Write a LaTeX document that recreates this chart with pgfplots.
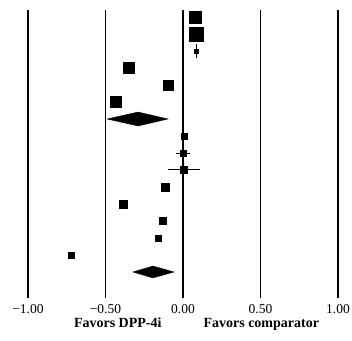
\documentclass[border=0pt]{standalone}
\usepackage{fontspec}
\setmainfont{Liberation Serif}
\usepackage{pgfplots}
\pgfplotsset{compat=1.18}
\usepackage{pgfplotstable}
\pgfplotstableread{
x y s
0.077 1 6
0.084 2 7
0.084 3 2
-0.348 4 5.5
-0.097 5 5
-0.432 6 5.5
0.006 8 3
0.000 9 3
0.006 10 3.5
-0.116 11 4
-0.387 12 4
-0.129 13 3.5
-0.161 14 3
-0.723 15 3
}\sqdata
\begin{document}
\begin{tikzpicture}
\useasboundingbox (0,0) rectangle (352bp,341bp);
\begin{axis}[
  at={(28bp,43bp)}, anchor=south west,
  scale only axis, width=310bp, height=288bp,
  xmin=-1, xmax=1, ymin=0.588, ymax=17.53, y dir=reverse,
  axis x line=bottom, axis y line=none,
  axis line style={draw=none},
  major tick length=0pt,
  xtick={-1,-0.5,0,0.5,1},
  xticklabels={−1.00,−0.50,0.00,0.50,1.00},
  xticklabel style={font=\fontsize{13.5bp}{16bp}\selectfont, yshift=-3bp},
  ytick=\empty,
  xmajorgrids, grid style={black, line width=1.1bp},
  clip=false,
]
\addplot[black, line width=1bp, mark=none, forget plot,
  error bars/.cd, x dir=both, x explicit, error bar style={line width=1bp}, error mark=none]
  coordinates {(0,9) +- (0.045,0) (0.006,10) +- (0.103,0)};
\addplot[black, line width=1bp, mark=none, draw=none, forget plot,
  error bars/.cd, y dir=both, y explicit, error bar style={line width=1bp}, error mark=none]
  coordinates {(0.084,3) +- (0,0.42)};
\addplot[scatter, only marks, mark=square*, draw=black, fill=black,
  scatter/use mapped color={draw=black, fill=black},
  visualization depends on={\thisrow{s}\as\ms},
  scatter/@pre marker code/.append style={/tikz/mark size=\ms bp}]
  table[x=x, y=y] {\sqdata};
\addplot[fill=black, draw=black] coordinates {(-0.49,7) (-0.29,6.59) (-0.097,7) (-0.29,7.41) (-0.49,7)};
\addplot[fill=black, draw=black] coordinates {(-0.323,16) (-0.194,15.65) (-0.058,16) (-0.194,16.35) (-0.323,16)};
\node[anchor=base east, font=\fontsize{14bp}{16bp}\selectfont\bfseries] at (axis description cs:0.442,-0.104) {Favors DPP-4i};
\node[anchor=base west, font=\fontsize{14bp}{16bp}\selectfont\bfseries] at (axis description cs:0.555,-0.104) {Favors comparator};
\end{axis}
\end{tikzpicture}
\end{document}
